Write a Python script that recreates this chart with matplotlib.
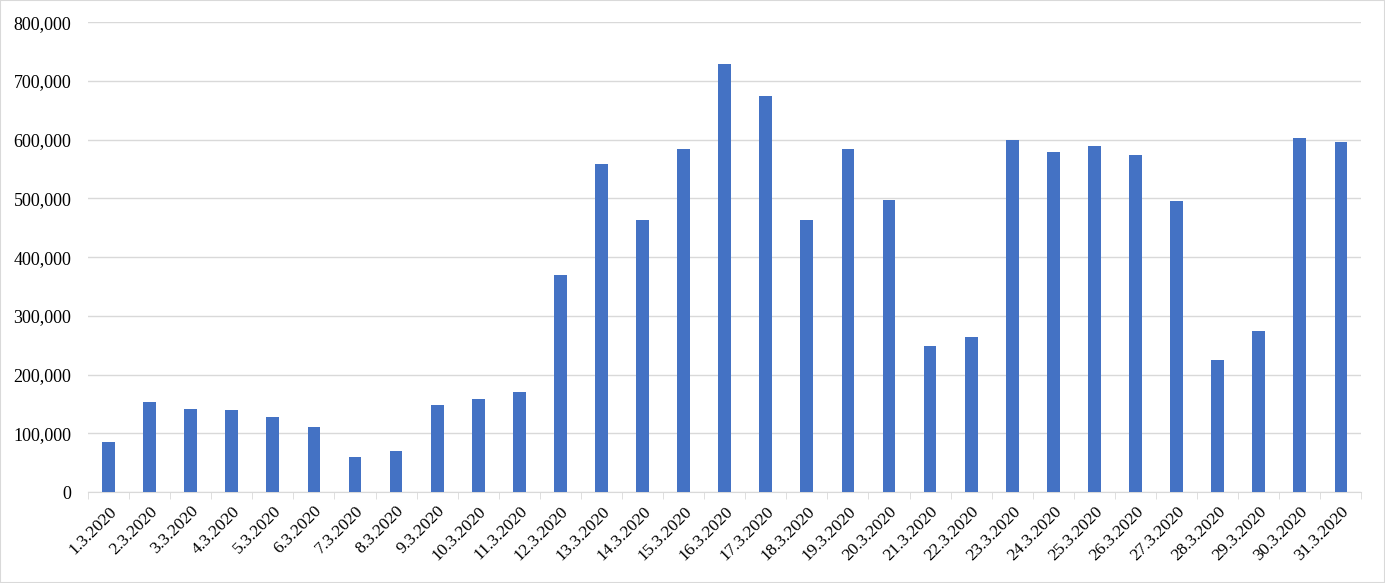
import matplotlib.pyplot as plt
from matplotlib.patches import Rectangle
from matplotlib.ticker import FuncFormatter, FixedLocator

dates = [f"{d}.3.2020" for d in range(1, 32)]
values = [
    85000, 153000, 142000, 139000, 127000, 110000, 59000, 70000, 149000, 159000,
    170000, 369000, 559000, 464000, 584000, 729000, 674000, 464000, 584000, 497000,
    249000, 264000, 599000, 579000, 590000, 574000, 495000, 225000, 275000, 602000,
    596000,
]

plt.rcParams["font.family"] = ["Liberation Serif", "DejaVu Serif"]

fig = plt.figure(figsize=(13.85, 5.83), dpi=100)
ax = fig.add_axes([0.0635, 0.156, 0.9195, 0.806])

x = list(range(len(dates)))
ax.bar(x, values, width=0.31, color="#4472C4", zorder=3)

ax.set_xlim(-0.5, len(dates) - 0.5)
ax.set_ylim(0, 800000)
ax.set_yticks(range(0, 800001, 100000))
ax.yaxis.set_major_formatter(FuncFormatter(lambda v, p: f"{int(v):,}"))
ax.grid(axis="y", color="#D9D9D9", lw=1, zorder=0)

ax.set_xticks(x)
ax.set_xticklabels(dates, rotation=45, ha="right", rotation_mode="anchor", fontsize=12.5)
ax.tick_params(axis="x", which="major", length=0, pad=8)
ax.xaxis.set_minor_locator(FixedLocator([i - 0.5 for i in range(len(dates) + 1)]))
ax.tick_params(axis="x", which="minor", length=5, color="#D9D9D9")
ax.tick_params(axis="y", length=0, labelsize=13, pad=12)

for s in ["top", "right", "left"]:
    ax.spines[s].set_visible(False)
ax.spines["bottom"].set_color("#D9D9D9")

fig.patches.append(Rectangle((0, 0), 1, 1, transform=fig.transFigure, fill=False,
                             edgecolor="#D9D9D9", lw=1.5))

fig.savefig("out.png", dpi=100, facecolor="white")
